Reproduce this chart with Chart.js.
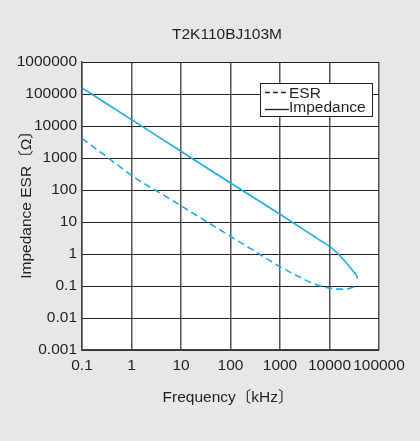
<!DOCTYPE html>
<html>
<head>
<meta charset="utf-8">
<script src="https://cdn.jsdelivr.net/npm/chart.js@4.4.1/dist/chart.umd.min.js"></script>
<style>
html,body{margin:0;padding:0;background:#e6e7e8;}
canvas{display:block;}
</style>
</head>
<body>
<canvas id="c" width="420" height="441"></canvas>
<script>
const chartTitle = 'T2K110BJ103M';
const xAxisTitle = 'Frequency〔kHz〕';
const yAxisTitle = 'Impedance ESR〔Ω〕';

const xTickValues = [0.1, 1, 10, 100, 1000, 10000, 100000];
const xTickLabels = ['0.1', '1', '10', '100', '1000', '10000', '100000'];
const yTickValues = [0.001, 0.01, 0.1, 1, 10, 100, 1000, 10000, 100000, 1000000];
const yTickLabels = ['0.001', '0.01', '0.1', '1', '10', '100', '1000', '10000', '100000', '1000000'];

const esrFreq   = [0.1, 0.2, 0.5, 1, 2, 5, 10, 20, 50, 100, 200, 500, 1000, 2500, 5000, 8000, 12000, 17000, 25000, 32000, 37000];
const esrValues = [4100, 1850, 640, 285, 145, 62, 32, 16.6, 6.9, 3.6, 1.85, 0.77, 0.40, 0.19, 0.115, 0.092, 0.083, 0.08, 0.084, 0.094, 0.105];

const zFreq   = [0.1, 1, 10, 100, 1000, 3000, 5000, 7000, 10000, 12000, 14700, 18000, 21700, 25400, 29600, 33000, 35500, 37000];
const zValues = [155000, 15900, 1620, 166, 17.5, 5.8, 3.45, 2.45, 1.74, 1.40, 1.04, 0.75, 0.54, 0.40, 0.30, 0.245, 0.205, 0.17];

const legendLabels = ['ESR', 'Impedance'];

const FONT = '"Liberation Sans", Arial, "Noto Sans CJK JP", sans-serif';
const TXT = '#231f20';
const LINE = '#22aae6';

const toPts = (xs, ys) => xs.map((x, i) => ({x: x, y: ys[i]}));

const decor = {
  id: 'decor',
  beforeDraw(chart) {
    const ctx = chart.ctx, a = chart.chartArea;
    ctx.save();
    ctx.fillStyle = '#e6e7e8';
    ctx.fillRect(0, 0, chart.width, chart.height);
    ctx.fillStyle = '#ffffff';
    ctx.fillRect(a.left, a.top, a.right - a.left, a.bottom - a.top);
    ctx.restore();
  },
  afterDraw(chart) {
    const ctx = chart.ctx;
    ctx.save();
    ctx.fillStyle = TXT;
    ctx.font = '15.5px ' + FONT;
    ctx.textAlign = 'center';
    ctx.textBaseline = 'middle';
    ctx.fillText(chartTitle, 227, 35);
    ctx.fillText(xAxisTitle, 228, 398);
    ctx.save();
    ctx.translate(27, 201);
    ctx.rotate(-Math.PI / 2);
    ctx.fillText(yAxisTitle, 0, 0);
    ctx.restore();
    // legend box
    const bx = 260, by = 83, bw = 112, bh = 33;
    ctx.fillStyle = '#ffffff';
    ctx.fillRect(bx, by, bw, bh);
    ctx.strokeStyle = '#231f20';
    ctx.lineWidth = 1;
    ctx.strokeRect(bx + 0.5, by + 0.5, bw, bh);
    ctx.lineWidth = 1.3;
    ctx.beginPath();
    ctx.setLineDash([5, 3]);
    ctx.moveTo(265, 92.5); ctx.lineTo(289, 92.5);
    ctx.stroke();
    ctx.setLineDash([]);
    ctx.beginPath();
    ctx.moveTo(265, 109.5); ctx.lineTo(289, 109.5);
    ctx.stroke();
    ctx.fillStyle = TXT;
    ctx.textAlign = 'left';
    ctx.textBaseline = 'alphabetic';
    ctx.fillText(legendLabels[0], 289, 98);
    ctx.fillText(legendLabels[1], 289, 112);
    ctx.restore();
  }
};

new Chart(document.getElementById('c'), {
  type: 'line',
  data: {
    datasets: [
      {
        label: legendLabels[0],
        data: toPts(esrFreq, esrValues),
        borderColor: LINE,
        borderWidth: 1.6,
        borderDash: [7, 4],
        pointRadius: 0,
        fill: false,
        cubicInterpolationMode: 'monotone'
      },
      {
        label: legendLabels[1],
        data: toPts(zFreq, zValues),
        borderColor: LINE,
        borderWidth: 1.6,
        pointRadius: 0,
        fill: false,
        cubicInterpolationMode: 'monotone'
      }
    ]
  },
  options: {
    responsive: false,
    animation: false,
    devicePixelRatio: 1,
    layout: {padding: {left: 0, right: 41, top: 62, bottom: 0}},
    plugins: {legend: {display: false}, title: {display: false}, tooltip: {enabled: false}},
    scales: {
      x: {
        type: 'logarithmic',
        min: 0.1, max: 100000,
        afterBuildTicks(s) { s.ticks = xTickValues.map(v => ({value: v})); },
        afterFit(s) { s.height = 91; },
        ticks: {
          autoSkip: false, maxRotation: 0, minRotation: 0,
          padding: 6, color: TXT,
          font: {family: FONT, size: 15.5},
          callback: (v, i) => xTickLabels[i]
        },
        grid: {color: '#555555', lineWidth: 1.5, drawTicks: false},
        border: {color: '#444444', width: 1.5}
      },
      y: {
        type: 'logarithmic',
        min: 0.001, max: 1000000,
        afterBuildTicks(s) { s.ticks = yTickValues.map(v => ({value: v})); },
        afterFit(s) { s.width = 82; },
        ticks: {
          autoSkip: false, padding: 5, color: TXT,
          font: {family: FONT, size: 15.5},
          callback: (v, i) => yTickLabels[i]
        },
        grid: {color: '#222222', lineWidth: 1, drawTicks: false},
        border: {color: '#444444', width: 1.5}
      }
    }
  },
  plugins: [decor]
});
</script>
</body>
</html>
